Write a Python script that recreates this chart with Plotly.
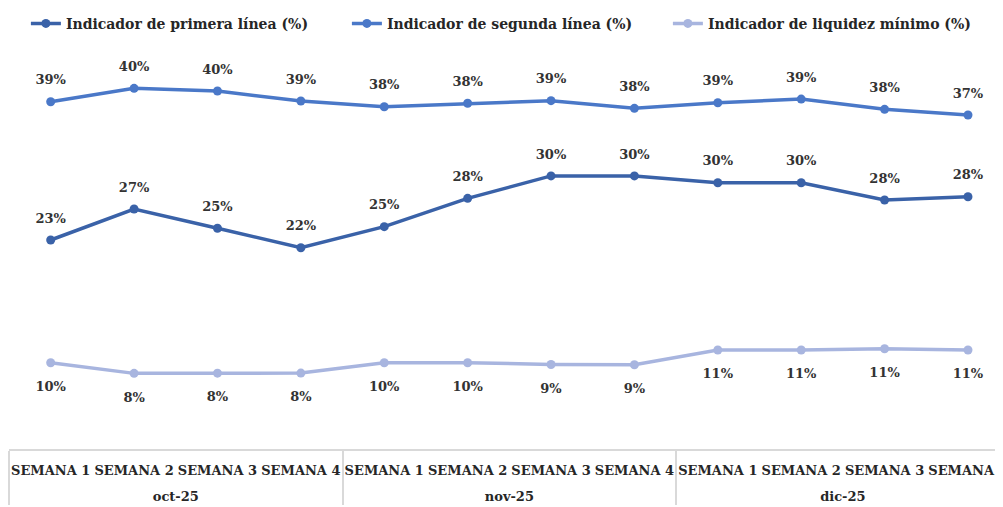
import plotly.graph_objects as go

months = ["<br>oct-25"] * 4 + ["<br>nov-25"] * 4 + ["<br>dic-25"] * 4
weeks = ["SEMANA 1", "SEMANA 2", "SEMANA 3", "SEMANA 4"] * 3

primera = [0.2328, 0.2672, 0.2458, 0.2242, 0.2476, 0.2791, 0.3040, 0.3040, 0.2964, 0.2964, 0.2772, 0.2809]
segunda = [0.3864, 0.4013, 0.3983, 0.3872, 0.3809, 0.3847, 0.3876, 0.3791, 0.3853, 0.3894, 0.3780, 0.3717]
liquidez = [0.0964, 0.0846, 0.0848, 0.0849, 0.0964, 0.0964, 0.0945, 0.0942, 0.1106, 0.1106, 0.1120, 0.1106]

names = ["Indicador de primera línea (%)", "Indicador de segunda línea (%)", "Indicador de liquidez mínimo (%)"]
colors = ["#3A62A8", "#4A78C8", "#A8B5DF"]

FONT = "DejaVu Serif"
x = [months, weeks]

fig = go.Figure()
series = [
    (primera, names[0], colors[0], "top center", 21),
    (segunda, names[1], colors[1], "top center", 21),
    (liquidez, names[2], colors[2], "bottom center", 28),
]
for vals, name, col, pos, pad in series:
    fig.add_trace(go.Scatter(
        x=x, y=vals, name=name, mode="lines+markers",
        line=dict(color=col, width=3.5),
        marker=dict(color=col, size=9),
        hoverinfo="skip",
    ))
for vals, name, col, pos, pad in series:
    fig.add_trace(go.Scatter(
        x=x, y=vals, name=name, mode="markers+text", showlegend=False,
        marker=dict(color=col, size=pad, opacity=0),
        text=vals, texttemplate="%{y:.0%}", textposition=pos,
        textfont=dict(family=FONT, size=13, color="#333333", weight="bold"),
        cliponaxis=False, hoverinfo="skip",
    ))

fig.update_layout(
    width=995, height=499,
    margin=dict(l=1, r=0, t=52, b=58, autoexpand=False),
    paper_bgcolor="white", plot_bgcolor="white",
    showlegend=True,
    legend=dict(orientation="h", x=0.017, xanchor="left", y=1.093, yanchor="middle",
                entrywidth=276,
                font=dict(family=FONT, size=14, color="#262626", weight="bold"),
                bgcolor="rgba(0,0,0,0)"),
    xaxis=dict(type="multicategory", range=[-0.5, 11.42], autorange=False,
               automargin=False, tickangle=0, ticklabelstandoff=8,
               ticklabeloverflow="allow",
               showline=True, linecolor="#D9D9D9", linewidth=2,
               showdividers=True, dividercolor="#D9D9D9", dividerwidth=2,
               showgrid=False, zeroline=False, ticks="",
               tickfont=dict(family=FONT, size=13, color="#262626", weight="bold")),
    yaxis=dict(visible=False, range=[0.00056, 0.4328], autorange=False,
               showgrid=False, zeroline=False, automargin=False),
)

fig.write_html("out.html")
